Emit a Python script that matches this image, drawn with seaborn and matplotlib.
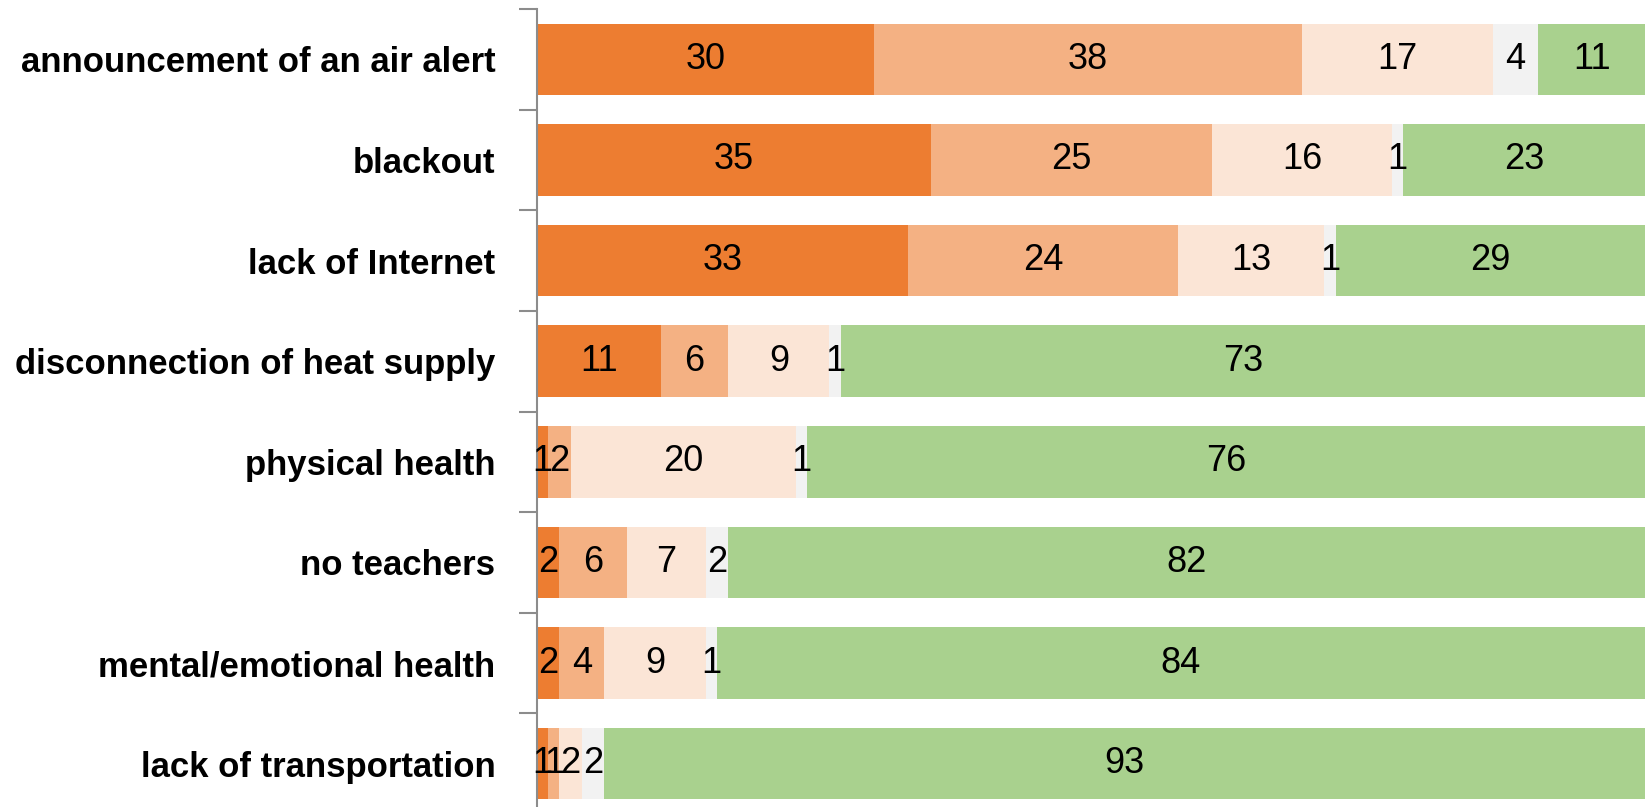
import matplotlib
matplotlib.use("Agg")
import matplotlib.pyplot as plt
import seaborn as sns
import numpy as np
import pandas as pd

categories = ["announcement of an air alert", "blackout", "lack of Internet",
              "disconnection of heat supply", "physical health", "no teachers",
              "mental/emotional health", "lack of transportation"]
seg1 = [30, 35, 33, 11, 1, 2, 2, 1]
seg2 = [38, 25, 24, 6, 2, 6, 4, 1]
seg3 = [17, 16, 13, 9, 20, 7, 9, 2]
seg4 = [4, 1, 1, 1, 1, 2, 1, 2]
seg5 = [11, 23, 29, 73, 76, 82, 84, 93]
colors = ["#ED7D31", "#F4B183", "#FBE5D6", "#F2F2F2", "#A9D18E"]

sns.set_style("white")
plt.rcParams["font.family"] = ["Liberation Sans Narrow", "Liberation Sans", "DejaVu Sans"]

series = [seg1, seg2, seg3, seg4, seg5]
cum = np.cumsum(np.array(series), axis=0)
xmax = 98.5

fig = plt.figure(figsize=(16.45, 8.07), dpi=100)
ax = fig.add_axes([537 / 1645, -0.0087, 1 - 537 / 1645, 0.9975])

# draw cumulative totals from the longest down so the segments look stacked
for i in range(len(series) - 1, -1, -1):
    df = pd.DataFrame({"cat": categories, "val": cum[i]})
    sns.barplot(data=df, x="val", y="cat", orient="h", color=colors[i],
                saturation=1, width=0.71, linewidth=0, ax=ax)

ax.set_xlim(0, xmax)
ax.set_ylim(len(categories) - 0.5, -0.5)

# value labels, centred on the visible part of each segment
for i, vals in enumerate(series):
    for j, v in enumerate(vals):
        left = cum[i][j] - v
        right = min(cum[i][j], xmax)
        ax.text((left + right) / 2, j, str(v), ha="center", va="center",
                fontsize=26, color="black")

ax.set_xlabel("")
ax.set_ylabel("")
ax.set_xticks([])
ax.tick_params(axis="y", which="major", left=False, length=0, pad=30,
               labelsize=25, labelcolor="black")
for lab in ax.get_yticklabels():
    lab.set_fontweight("bold")
ax.set_yticks(np.arange(len(categories) + 1) - 0.5, minor=True)
ax.tick_params(axis="y", which="minor", left=True, length=13, width=1.5,
               color="#8C8C8C")
for s in ["top", "right", "bottom"]:
    ax.spines[s].set_visible(False)
ax.spines["left"].set_color("#8C8C8C")
ax.spines["left"].set_linewidth(1.5)

fig.savefig("out.png", dpi=100)
